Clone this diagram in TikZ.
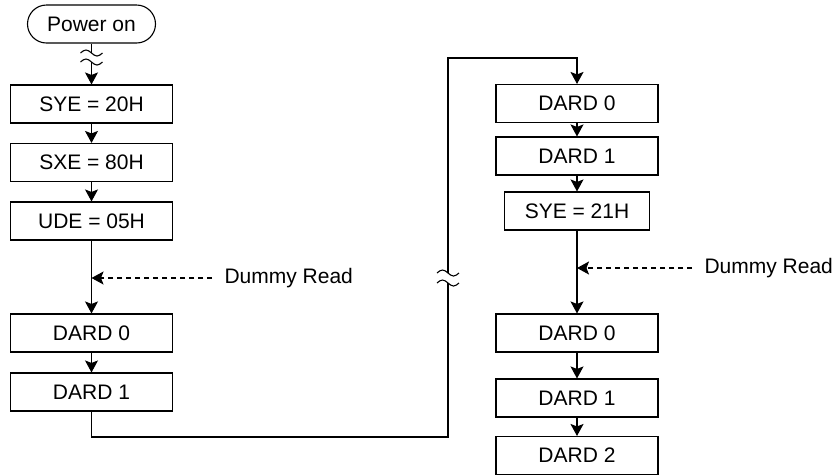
\documentclass[tikz,border=0pt]{standalone}
\usepackage{fontspec}
\setmainfont{Liberation Sans}
\usetikzlibrary{arrows.meta}
\newcommand\squig[2]{\draw (#1-11,#2) sin (#1-5.5,#2-3) cos (#1,#2) sin (#1+5.5,#2+3) cos (#1+11,#2);}
\begin{document}
\begin{tikzpicture}[x=1pt,y=-1pt, line width=1.1pt,
  box/.style={draw, minimum width=162pt, minimum height=38pt, inner sep=0pt, font=\fontsize{21}{25}\selectfont},
  arr/.style={-{Stealth[length=12pt,width=13pt,inset=2.5pt]}},
  lbl/.style={font=\fontsize{21}{25}\selectfont, anchor=west, inner ysep=0pt, inner xsep=12pt},
  dsh/.style={dash pattern=on 5pt off 4pt}]
\useasboundingbox (0,0) rectangle (836,475);
% left column
\node[box, rounded corners=19pt, minimum width=128pt] (pwr) at (91.5,24) {Power on};
\node[box] (a1) at (91.5,104) {SYE = 20H};
\node[box] (a2) at (91.5,162.5) {SXE = 80H};
\node[box] (a3) at (91.5,221) {UDE = 05H};
\node[box] (a4) at (91.5,333) {DARD 0};
\node[box] (a5) at (91.5,392) {DARD 1};
% right column
\node[box] (b1) at (577,103.5) {DARD 0};
\node[box] (b2) at (577,156) {DARD 1};
\node[box, minimum width=145pt] (b3) at (577,211) {SYE = 21H};
\node[box] (b4) at (577,333) {DARD 0};
\node[box] (b5) at (577,398) {DARD 1};
\node[box] (b6) at (577,455.5) {DARD 2};
% labels
\node[lbl] (dr1) at (212,278) {Dummy Read};
\node[lbl] (dr2) at (692,268) {Dummy Read};
\coordinate (dl1) at (91.5,278);
\coordinate (dl2) at (577,268);
% power-on break
\coordinate (p1) at (91.5,53);
\coordinate (p2) at (91.5,62);
\draw (pwr.south) -- (p1);
\squig{91.5}{53}
\squig{91.5}{62}
\draw[arr] (p2) -- (a1.north);
\draw[arr] (a1) -- (a2);
\draw[arr] (a2) -- (a3);
\draw[arr] (a3) -- (a4);
\draw[arr] (a4) -- (a5);
\draw[arr, dsh] (dr1.west) -- (dl1);
% long connector
\coordinate (c1) at (91.5,437);
\coordinate (c2) at (448,437);
\coordinate (c3) at (448,283);
\coordinate (c4) at (448,273);
\coordinate (c5) at (448,58);
\coordinate (c6) at (577,58);
\draw (a5.south) -- (c1) -- (c2) -- (c3);
\squig{448}{273}
\squig{448}{283}
\draw[arr] (c4) -- (c5) -- (c6) -- (b1.north);
% right arrows
\draw[arr] (b1) -- (b2);
\draw[arr] (b2) -- (b3);
\draw[arr] (b3) -- (b4);
\draw[arr] (b4) -- (b5);
\draw[arr] (b5) -- (b6);
\draw[arr, dsh] (dr2.west) -- (dl2);
\end{tikzpicture}
\end{document}
